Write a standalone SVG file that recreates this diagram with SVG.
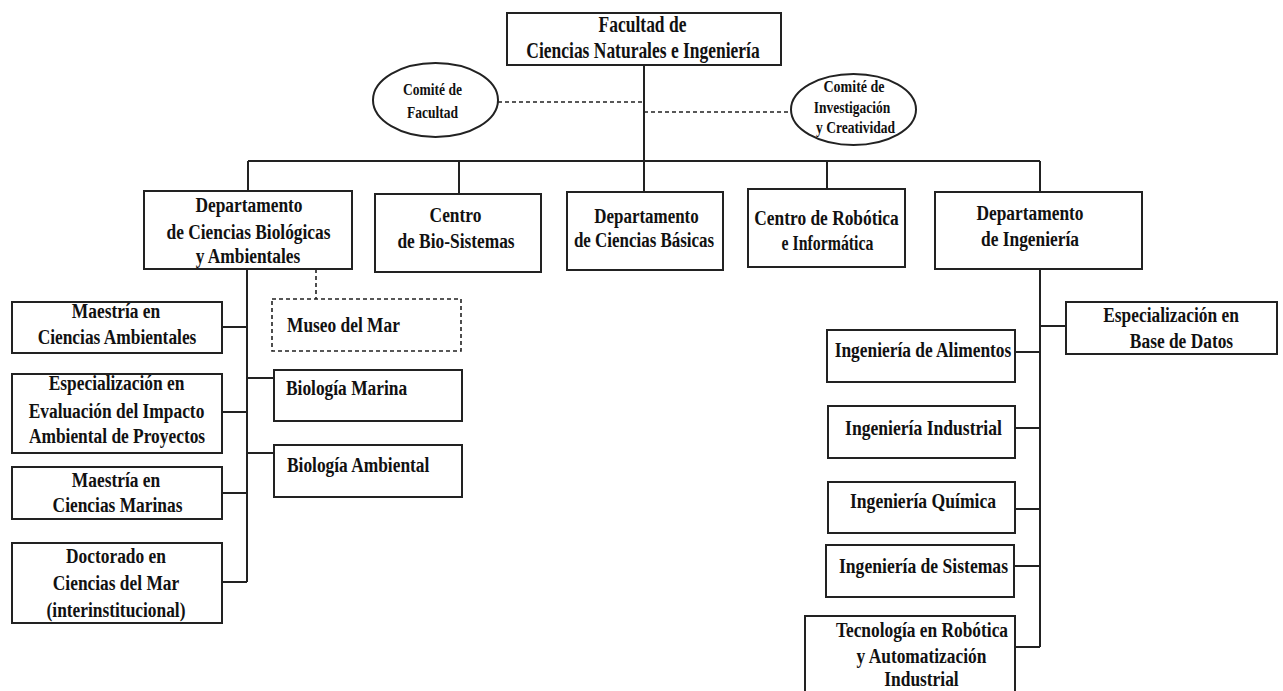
<svg xmlns="http://www.w3.org/2000/svg" width="1283" height="691" viewBox="0 0 1283 691">
<style>
.bx{fill:#fff;stroke:#222;stroke-width:2}
.dbx{fill:#fff;stroke:#222;stroke-width:1.6;stroke-dasharray:4 3}
.el{fill:#fff;stroke:#222;stroke-width:2}
.ln{fill:none;stroke:#222;stroke-width:2}
.dl{fill:none;stroke:#222;stroke-width:1.6;stroke-dasharray:4 3}
text{font-family:"Liberation Serif","Times New Roman",serif;font-weight:bold;fill:#111;font-size:22px}
.c{text-anchor:middle}
.s{font-size:16.5px}
.t{font-size:23px}
</style>
<rect width="1283" height="691" fill="#fff"/>
<g id="connectors">
<path class="ln" d="M644 65V161M248 161H1040M248 161V191M459 161V194M644 161V192M827 161V189M1040 161V192"/>
<path class="dl" d="M498 102H644M644 112H791"/>
<path class="ln" d="M247 269V582M222 327H247M222 412H247M222 493H247M222 582H247M247 378H274M247 453H274"/>
<path class="dl" d="M316 269V299"/>
<path class="ln" d="M1040 269V647M1040 326H1066M1015 352H1040M1015 428H1040M1015 509H1040M1014 566H1040M1015 647H1040"/>
</g>
<g id="facultad"><rect class="bx" x="507" y="13" width="274" height="52"/>
<text class="c t" transform="translate(642.5 32) scale(0.76 1)">Facultad de</text>
<text class="c t" transform="translate(643 58) scale(0.76 1)">Ciencias Naturales e Ingeniería</text></g>
<g id="comite-facultad"><ellipse class="el" cx="435.5" cy="100" rx="62.5" ry="37"/>
<text class="c s" transform="translate(432.5 95) scale(0.82 1)">Comité de</text>
<text class="c s" transform="translate(432.5 118) scale(0.82 1)">Facultad</text></g>
<g id="comite-investigacion"><ellipse class="el" cx="853.5" cy="109.5" rx="62.5" ry="35.5"/>
<text class="c s" transform="translate(854 92) scale(0.85 1)">Comité de</text>
<text class="c s" transform="translate(852 113) scale(0.82 1)">Investigación</text>
<text class="c s" transform="translate(855.5 133) scale(0.82 1)">y Creatividad</text></g>
<g id="dept-bio"><rect class="bx" x="144" y="191" width="208" height="78"/>
<text class="c" transform="translate(249 212) scale(0.79 1)">Departamento</text>
<text class="c" transform="translate(248.5 239) scale(0.79 1)">de Ciencias Biológicas</text>
<text class="c" transform="translate(248 263) scale(0.79 1)">y Ambientales</text></g>
<g id="centro-bio"><rect class="bx" x="375" y="194" width="166" height="78"/>
<text class="c" transform="translate(455.5 222) scale(0.79 1)">Centro</text>
<text class="c" transform="translate(456 248) scale(0.79 1)">de Bio-Sistemas</text></g>
<g id="dept-basicas"><rect class="bx" x="567" y="192" width="156" height="78"/>
<text class="c" transform="translate(646.5 223) scale(0.77 1)">Departamento</text>
<text class="c" transform="translate(644 247) scale(0.77 1)">de Ciencias Básicas</text></g>
<g id="centro-robotica"><rect class="bx" x="748" y="189" width="157" height="78"/>
<text class="c" transform="translate(826.5 225) scale(0.79 1)">Centro de Robótica</text>
<text class="c" transform="translate(827.5 250) scale(0.72 1)">e Informática</text></g>
<g id="dept-ing"><rect class="bx" x="935" y="192" width="207" height="77"/>
<text class="c" transform="translate(1030 220) scale(0.79 1)">Departamento</text>
<text class="c" transform="translate(1030 246) scale(0.79 1)">de Ingeniería</text></g>
<g id="esp-bd"><rect class="bx" x="1066" y="302" width="211" height="52"/>
<text class="c" transform="translate(1171 322) scale(0.79 1)">Especialización en</text>
<text class="c" transform="translate(1181.5 348) scale(0.79 1)">Base de Datos</text></g>
<g id="ing-alimentos"><rect class="bx" x="827" y="330" width="188" height="52"/>
<text class="c" transform="translate(923 357) scale(0.79 1)">Ingeniería de Alimentos</text></g>
<g id="ing-industrial"><rect class="bx" x="828" y="406" width="187" height="52"/>
<text class="c" transform="translate(923.5 435) scale(0.8 1)">Ingeniería Industrial</text></g>
<g id="ing-quimica"><rect class="bx" x="828" y="482" width="187" height="51"/>
<text class="c" transform="translate(923 508) scale(0.8 1)">Ingeniería Química</text></g>
<g id="ing-sistemas"><rect class="bx" x="826" y="545" width="188" height="52"/>
<text class="c" transform="translate(923.5 573) scale(0.8 1)">Ingeniería de Sistemas</text></g>
<g id="tec-robotica"><rect class="bx" x="805" y="616" width="210" height="80"/>
<text class="c" transform="translate(922 637) scale(0.79 1)">Tecnología en Robótica</text>
<text class="c" transform="translate(921.5 663) scale(0.79 1)">y Automatización</text>
<text class="c" transform="translate(921.5 686) scale(0.79 1)">Industrial</text></g>
<g id="maestria-amb"><rect class="bx" x="12" y="302" width="210" height="51"/>
<text class="c" transform="translate(116 318) scale(0.79 1)">Maestría en</text>
<text class="c" transform="translate(117 344) scale(0.79 1)">Ciencias Ambientales</text></g>
<g id="esp-impacto"><rect class="bx" x="12" y="374" width="210" height="79"/>
<text class="c" transform="translate(116.5 390) scale(0.79 1)">Especialización en</text>
<text class="c" transform="translate(116.5 418) scale(0.79 1)">Evaluación del Impacto</text>
<text class="c" transform="translate(117 443) scale(0.79 1)">Ambiental de Proyectos</text></g>
<g id="maestria-marinas"><rect class="bx" x="12" y="467" width="210" height="52"/>
<text class="c" transform="translate(116 487) scale(0.79 1)">Maestría en</text>
<text class="c" transform="translate(117.5 512) scale(0.79 1)">Ciencias Marinas</text></g>
<g id="doctorado"><rect class="bx" x="12" y="543" width="210" height="80"/>
<text class="c" transform="translate(116 563) scale(0.79 1)">Doctorado en</text>
<text class="c" transform="translate(116 590) scale(0.79 1)">Ciencias del Mar</text>
<text class="c" transform="translate(116 617) scale(0.79 1)">(interinstitucional)</text></g>
<g id="museo"><rect class="dbx" x="272" y="299" width="189" height="52"/>
<text transform="translate(287 332) scale(0.79 1)">Museo del Mar</text></g>
<g id="bio-marina"><rect class="bx" x="274" y="370" width="188" height="51"/>
<text transform="translate(286 395) scale(0.79 1)">Biología Marina</text></g>
<g id="bio-ambiental"><rect class="bx" x="274" y="445" width="188" height="52"/>
<text transform="translate(287 472) scale(0.79 1)">Biología Ambiental</text></g>
</svg>
